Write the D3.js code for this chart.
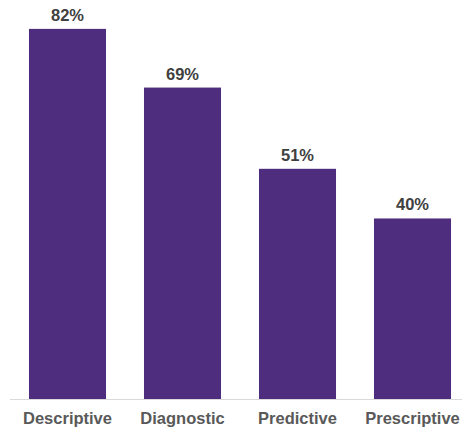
<!DOCTYPE html>
<html>
<head>
<meta charset="utf-8">
<script src="https://cdn.jsdelivr.net/npm/d3@7"></script>
<style>
  html, body { margin: 0; padding: 0; background: #fff; }
  svg { display: block; }
</style>
</head>
<body>
<script>
// Share of organisations using each analytics type
const categories = ["Descriptive", "Diagnostic", "Predictive", "Prescriptive"];
const values = [82, 69, 51, 40];

const width = 462, height = 430;
const baseline = 399;

const svg = d3.select("body").append("svg")
  .attr("width", width)
  .attr("height", height);

const x = d3.scaleBand()
  .domain(categories)
  .range([10, 470])
  .paddingInner(0.33)
  .paddingOuter(0.165);

const y = d3.scaleLinear()
  .domain([0, 88.4])
  .range([baseline, 0]);

// bars
svg.append("g")
  .selectAll("rect")
  .data(values)
  .join("rect")
  .attr("x", (d, i) => x(categories[i]))
  .attr("y", d => y(d))
  .attr("width", x.bandwidth())
  .attr("height", d => y(0) - y(d))
  .attr("fill", "#4f2d7e");

// category axis
const axis = svg.append("g")
  .attr("transform", `translate(0,${baseline})`)
  .call(d3.axisBottom(x).tickSize(0).tickPadding(13));
axis.select(".domain").attr("stroke", "#d9d9d9").attr("d", "M10,0.5H462");
axis.selectAll("text")
  .attr("font-family", "'Liberation Sans', Arial, sans-serif")
  .attr("font-size", 16.5)
  .attr("font-weight", "bold")
  .attr("fill", "#595959");

// value labels
svg.append("g")
  .selectAll("text")
  .data(values)
  .join("text")
  .attr("x", (d, i) => x(categories[i]) + x.bandwidth() / 2)
  .attr("y", d => y(d) - 8)
  .attr("text-anchor", "middle")
  .attr("font-family", "'Liberation Sans', Arial, sans-serif")
  .attr("font-size", 16.5)
  .attr("font-weight", "bold")
  .attr("fill", "#404040")
  .text(d => d + "%");
</script>
</body>
</html>
